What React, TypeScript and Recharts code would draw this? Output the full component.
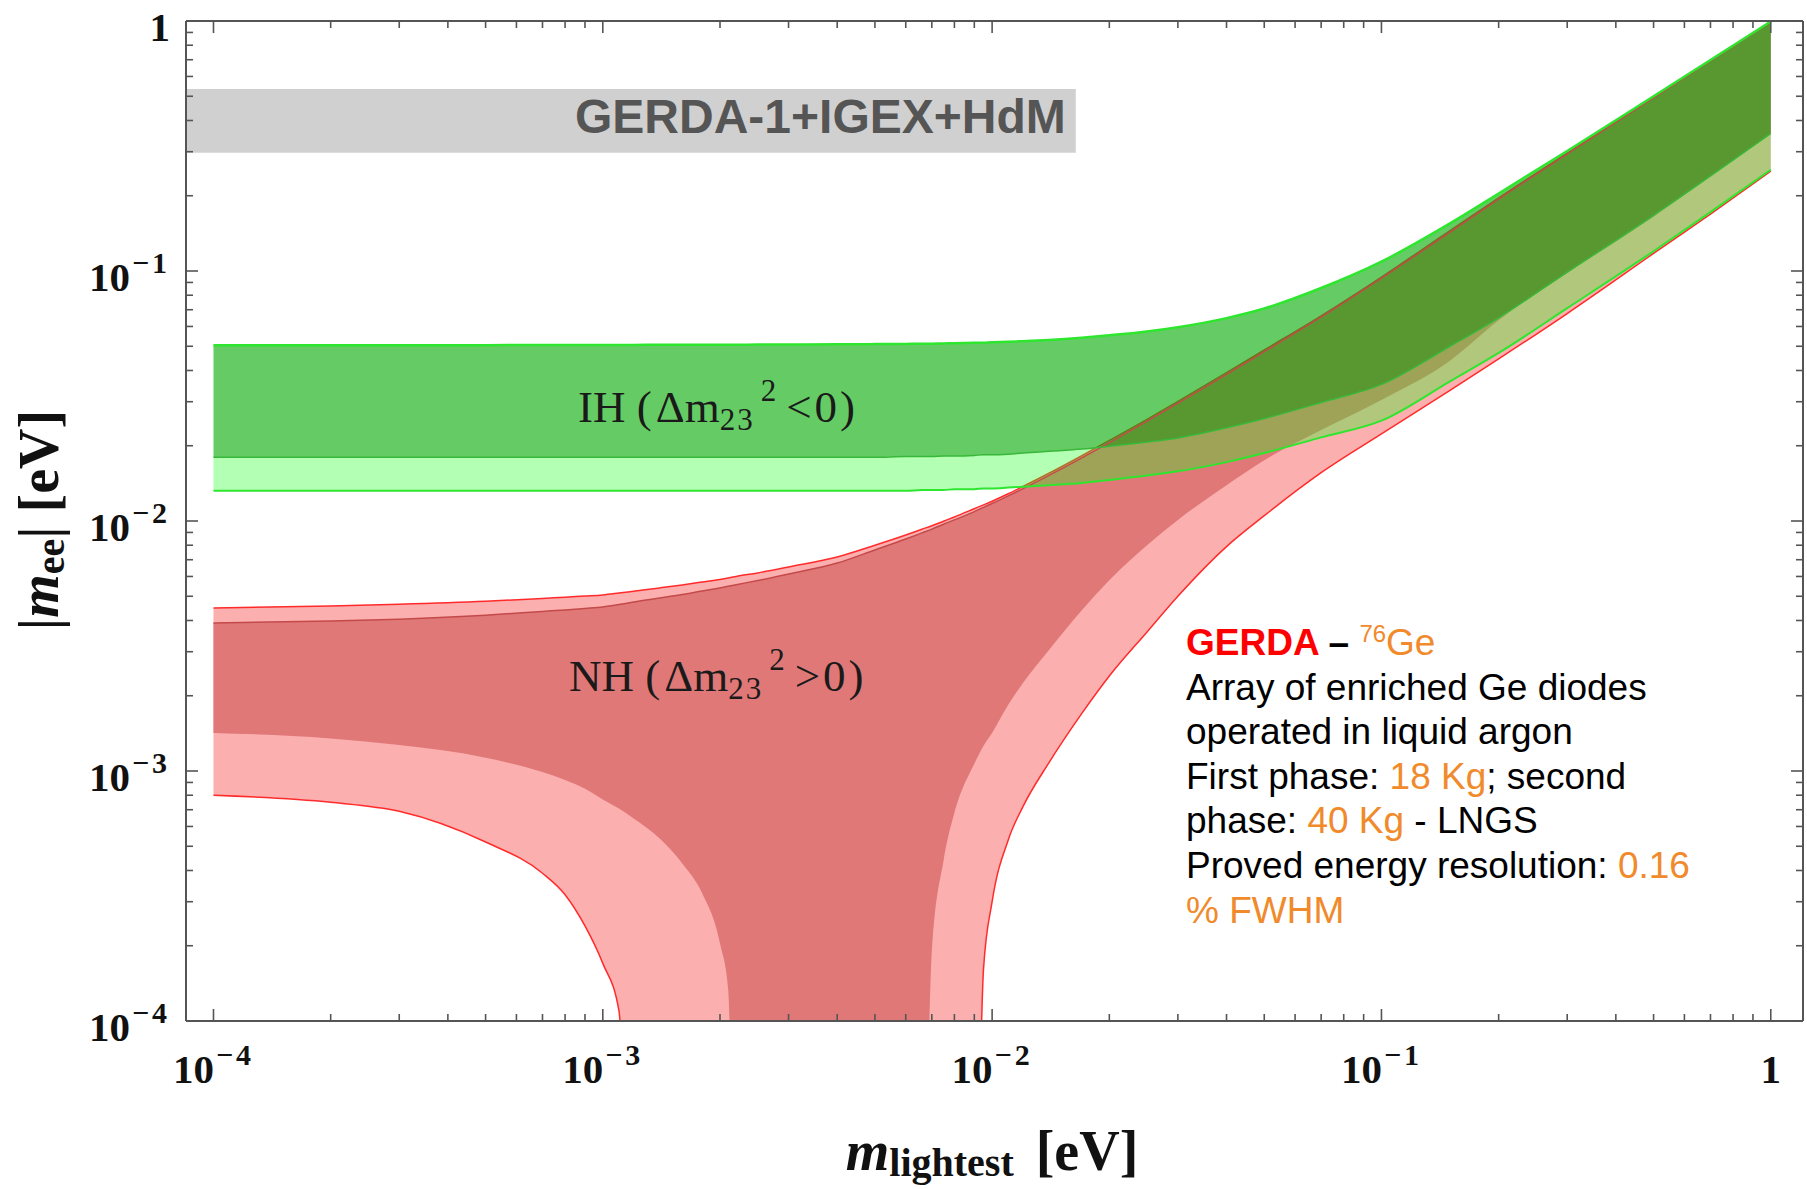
import { ComposedChart, Area, Line, XAxis, YAxis, ReferenceArea } from 'recharts'

// m_ee drops to zero here, below the plotted range
const Z = 1e-5

const mLightest = [
  1e-4, 2e-4, 3e-4, 5e-4, 7e-4, 8e-4, 9e-4, 1e-3, 1.1e-3, 1.2e-3,
  1.4e-3, 1.6e-3, 1.8e-3, 2e-3, 2.1e-3, 2.2e-3, 2.5e-3, 3e-3, 4e-3, 5e-3,
  6e-3, 6.6e-3, 7e-3, 7.5e-3, 8e-3, 9e-3, 9.5e-3, 0.01, 0.011, 0.012,
  0.014, 0.017, 0.02, 0.025, 0.03, 0.04, 0.05, 0.07, 0.1, 0.15,
  0.2, 0.3, 0.5, 0.7, 1,
]

// inverted hierarchy
const ihUpper = [
  0.0505, 0.0505, 0.0505, 0.0505, 0.0506, 0.0506, 0.0506, 0.0506, 0.0506, 0.0506,
  0.0507, 0.0507, 0.0507, 0.0507, 0.0507, 0.0507, 0.0508, 0.0508, 0.0509, 0.051,
  0.0511, 0.0512, 0.0512, 0.0513, 0.0514, 0.0516, 0.0517, 0.0519, 0.0521, 0.0524,
  0.053, 0.0541, 0.0553, 0.0573, 0.0596, 0.0648, 0.0708, 0.0855, 0.109, 0.155,
  0.204, 0.302, 0.5, 0.698, 0.995,
]
const ihBestLower = [
  0.018, 0.018, 0.018, 0.018, 0.018, 0.018, 0.018, 0.018, 0.018, 0.018,
  0.018, 0.018, 0.018, 0.018, 0.018, 0.018, 0.018, 0.018, 0.018, 0.018,
  0.0181, 0.0181, 0.0181, 0.0182, 0.0182, 0.0183, 0.0184, 0.0184, 0.0185, 0.0187,
  0.019, 0.0194, 0.0199, 0.0207, 0.0215, 0.0236, 0.0257, 0.0298, 0.0352, 0.05,
  0.065, 0.099, 0.167, 0.24, 0.355,
]
const ih3sLower = [
  0.0132, 0.0132, 0.0132, 0.0132, 0.0132, 0.0132, 0.0132, 0.0132, 0.0132, 0.0132,
  0.0132, 0.0132, 0.0132, 0.0132, 0.0132, 0.0132, 0.0132, 0.0132, 0.0132, 0.0132,
  0.0132, 0.0133, 0.0133, 0.0133, 0.0134, 0.0134, 0.0135, 0.0135, 0.0136, 0.0137,
  0.0139, 0.0142, 0.0146, 0.0152, 0.0158, 0.0172, 0.0187, 0.0216, 0.0252, 0.0362,
  0.047, 0.071, 0.12, 0.172, 0.254,
]

// normal hierarchy
const nh3sUpper = [
  0.00449, 0.00457, 0.00464, 0.00477, 0.0049, 0.00496, 0.00501, 0.00506, 0.00515, 0.00524,
  0.0054, 0.00555, 0.0057, 0.00584, 0.00592, 0.006, 0.0062, 0.00655, 0.00718, 0.008,
  0.00879, 0.00927, 0.00957, 0.00998, 0.01038, 0.0112, 0.0116, 0.012, 0.01285, 0.01374,
  0.01552, 0.01824, 0.021, 0.0255, 0.0301, 0.0392, 0.0483, 0.0662, 0.0946, 0.145,
  0.196, 0.296, 0.496, 0.695, 0.993,
]
const nhBestUpper = [
  0.00391, 0.00398, 0.00405, 0.0042, 0.00435, 0.00441, 0.00447, 0.00453, 0.00463, 0.00474,
  0.00492, 0.00508, 0.00525, 0.0054, 0.00548, 0.00556, 0.00578, 0.00614, 0.00679, 0.00766,
  0.00847, 0.00896, 0.00928, 0.00971, 0.0101, 0.0109, 0.01134, 0.01175, 0.0126, 0.01347,
  0.01523, 0.0179, 0.0206, 0.0251, 0.0296, 0.0386, 0.0476, 0.0655, 0.0937, 0.143,
  0.194, 0.294, 0.493, 0.692, 0.99,
]
const nhBestLower = [
  0.00142, 0.00135, 0.00127, 0.00113, 0.00099, 0.00092, 0.00085, 0.00077, 0.000708, 0.000646,
  0.000537, 0.000427, 0.000324, 0.000204, 0.000132, Z, Z, Z, Z, Z,
  Z, Z, 0.00019, 0.000437, 0.00068, 0.00107, 0.00126, 0.00142, 0.00184, 0.00225,
  0.00305, 0.0044, 0.0058, 0.008, 0.0101, 0.0139, 0.0175, 0.0231, 0.0305, 0.0438,
  0.0635, 0.098, 0.165, 0.238, 0.352,
]
const nh3sLower = [
  0.0008, 0.00075, 0.00069, 0.00052, 0.00039, 0.00032, 0.00024, 0.00017, 0.00011, Z,
  Z, Z, Z, Z, Z, Z, Z, Z, Z, Z,
  Z, Z, Z, Z, Z, Z, 0.00016, 0.0003, 0.00053, 0.00072,
  0.00108, 0.0017, 0.0024, 0.0036, 0.005, 0.0079, 0.0105, 0.0156, 0.0223, 0.0333,
  0.0445, 0.0676, 0.1175, 0.169, 0.251,
]

// GERDA-1+IGEX+HdM excluded band
const limitMee = [0.297, 0.535]
const limitMassMax = 0.0164

const decades = [1e-4, 1e-3, 1e-2, 1e-1, 1]
const minorSteps = [2, 3, 4, 5, 6, 7, 8, 9]
const xDomain = [8.5e-5, 1.21]
const yDomain = [1e-4, 1]

const logTicks = [
  ...decades,
  ...decades.slice(0, -1).flatMap((d) => minorSteps.map((k) => k * d)),
]

const rows = mLightest.map((m, i) => ({
  m,
  nh3s: [nh3sLower[i], nh3sUpper[i]],
  nhBest: [nhBestLower[i], nhBestUpper[i]],
  nhBestUp: nhBestUpper[i],
  ihLight: [ih3sLower[i], ihBestLower[i]],
  ihDark: [ihBestLower[i], ihUpper[i]],
  ihUp: ihUpper[i],
  ihBestLo: ihBestLower[i],
  ih3sLo: ih3sLower[i],
}))

const SERIF = '"Liberation Serif", "DejaVu Serif", serif'
const SANS = '"Liberation Sans", Arial, sans-serif'
const FRAME = '#555'
const ORANGE = '#f08a2b'
const CURVE = 'monotoneX'

const isDecade = (v: number) => decades.some((d) => Math.abs(v / d - 1) < 1e-9)

function PowerLabel({ x, y, v, anchor }: { x: number; y: number; v: number; anchor: string }) {
  const e = Math.round(Math.log10(v))
  return (
    <text x={x} y={y} textAnchor={anchor as any} fontFamily={SERIF} fontWeight="bold" fontSize={41} fill="#111">
      {e === 0 ? '1' : (
        <>
          10
          <tspan dy={-18} dx={2} fontSize={30} letterSpacing={3}>{'\u2212' + Math.abs(e)}</tspan>
        </>
      )}
    </text>
  )
}

function AxisTick(props: any) {
  const { x, y, payload, side } = props
  const v = payload.value
  const major = isDecade(v)
  const len = major ? 12 : 7
  let tickLine
  if (side === 'bottom') tickLine = <line x1={x} x2={x} y1={y} y2={y - len} />
  else if (side === 'top') tickLine = <line x1={x} x2={x} y1={y} y2={y + len} />
  else if (side === 'left') tickLine = <line x1={x} x2={x + len} y1={y} y2={y} />
  else tickLine = <line x1={x} x2={x - len} y1={y} y2={y} />
  return (
    <g>
      <g stroke={FRAME} strokeWidth={1.6}>{tickLine}</g>
      {major && side === 'bottom' && <PowerLabel x={x} y={y + 62} v={v} anchor="middle" />}
      {major && side === 'left' && <PowerLabel x={x - 16} y={y + 20} v={v} anchor="end" />}
    </g>
  )
}

function LimitLabel(props: any) {
  const vb = props.viewBox
  if (!vb) return null
  return (
    <text
      x={vb.x + vb.width - 10}
      y={vb.y + vb.height / 2 + 12}
      textAnchor="end"
      fontFamily={SANS}
      fontWeight="bold"
      fontSize={48}
      fill="#555"
    >
      GERDA-1+IGEX+HdM
    </text>
  )
}

function HierarchyLabel({ x, y, name, sign }: { x: number; y: number; name: string; sign: string }) {
  return (
    <text x={x} y={y} fontFamily={SERIF} fontSize={45} fill="#1a1a1a">
      {name} (
      <tspan dx={4}>Δm</tspan>
      <tspan fontSize={31} dy={8} letterSpacing={2}>23</tspan>
      <tspan fontSize={31} dy={-29} dx={6}>2</tspan>
      <tspan dy={21} dx={10} letterSpacing={3}>{sign}0)</tspan>
    </text>
  )
}

function Annotations() {
  return (
    <svg
      width={1807}
      height={1189}
      style={{ position: 'absolute', left: 0, top: 0, pointerEvents: 'none' }}
    >
      <HierarchyLabel x={578} y={422} name="IH" sign="<" />
      <HierarchyLabel x={569} y={691} name="NH" sign=">" />

      {/* experiment box */}
      <g fontFamily={SANS} fontSize={37} fill="#000">
        <text x={1186} y={655}>
          <tspan fill="#ff0000" fontWeight="bold">GERDA</tspan>
          <tspan fontWeight="bold"> – </tspan>
          <tspan fill={ORANGE} fontSize={24} dy={-13}>76</tspan>
          <tspan fill={ORANGE} dy={13}>Ge</tspan>
        </text>
        <text x={1186} y={700}>Array of enriched Ge diodes</text>
        <text x={1186} y={744}>operated in liquid argon</text>
        <text x={1186} y={789}>
          First phase: <tspan fill={ORANGE}>18 Kg</tspan>; second
        </text>
        <text x={1186} y={833}>
          phase: <tspan fill={ORANGE}>40 Kg</tspan> - LNGS
        </text>
        <text x={1186} y={878}>
          Proved energy resolution: <tspan fill={ORANGE}>0.16</tspan>
        </text>
        <text x={1186} y={923} fill={ORANGE}>% FWHM</text>
      </g>

      {/* axis titles */}
      <text x={992} y={1170} textAnchor="middle" fontFamily={SERIF} fontWeight="bold" fontSize={56} fill="#111">
        <tspan fontStyle="italic">m</tspan>
        <tspan fontSize={40} dy={6}>lightest</tspan>
        <tspan dy={-6} dx={22}>[eV]</tspan>
      </text>
      <text
        transform="translate(58,520) rotate(-90)"
        textAnchor="middle"
        fontFamily={SERIF}
        fontWeight="bold"
        fontSize={56}
        fill="#111"
      >
        |<tspan fontStyle="italic">m</tspan>
        <tspan fontSize={40} dy={6}>ee</tspan>
        <tspan dy={-6}>|</tspan>
        <tspan dx={14}>[eV]</tspan>
      </text>
    </svg>
  )
}

export default function App() {
  return (
    <div style={{ position: 'absolute', left: 0, top: 0, width: 1807, height: 1189, background: '#fff' }}>
      <ComposedChart
        width={1807}
        height={1189}
        data={rows}
        margin={{ top: 20, right: 3, bottom: 108, left: 86 }}
      >
        <XAxis
          dataKey="m"
          type="number"
          scale="log"
          domain={xDomain}
          allowDataOverflow
          ticks={logTicks}
          interval={0}
          height={60}
          tickSize={0}
          tickMargin={0}
          tickLine={false}
          axisLine={{ stroke: FRAME, strokeWidth: 2 }}
          tick={(p: any) => <AxisTick {...p} side="bottom" />}
        />
        <XAxis
          xAxisId="top"
          orientation="top"
          dataKey="m"
          type="number"
          scale="log"
          domain={xDomain}
          allowDataOverflow
          ticks={logTicks}
          interval={0}
          height={1}
          tickSize={0}
          tickMargin={0}
          tickLine={false}
          axisLine={{ stroke: FRAME, strokeWidth: 2 }}
          tick={(p: any) => <AxisTick {...p} side="top" />}
        />
        <YAxis
          type="number"
          scale="log"
          domain={yDomain}
          allowDataOverflow
          ticks={logTicks}
          interval={0}
          width={100}
          tickSize={0}
          tickMargin={0}
          tickLine={false}
          axisLine={{ stroke: FRAME, strokeWidth: 2 }}
          tick={(p: any) => <AxisTick {...p} side="left" />}
        />
        <YAxis
          yAxisId="right"
          orientation="right"
          type="number"
          scale="log"
          domain={yDomain}
          allowDataOverflow
          ticks={logTicks}
          interval={0}
          width={1}
          tickSize={0}
          tickMargin={0}
          tickLine={false}
          axisLine={{ stroke: FRAME, strokeWidth: 2 }}
          tick={(p: any) => <AxisTick {...p} side="right" />}
        />

        <ReferenceArea
          x1={xDomain[0]}
          x2={limitMassMax}
          y1={limitMee[0]}
          y2={limitMee[1]}
          fill="#d0d0d0"
          fillOpacity={1}
          stroke="none"
          label={(p: any) => <LimitLabel {...p} />}
        />

        <Area
          dataKey="nh3s"
          type={CURVE}
          fill="#fcafaf"
          fillOpacity={1}
          stroke="#ff2b2b"
          strokeWidth={1.5}
          isAnimationActive={false}
        />
        <Area
          dataKey="nhBest"
          type={CURVE}
          fill="#e07878"
          fillOpacity={1}
          stroke="none"
          isAnimationActive={false}
        />
        <Line dataKey="nhBestUp" type={CURVE} stroke="#c44a4a" strokeWidth={1.5} dot={false} isAnimationActive={false} />
        <Area
          dataKey="ihLight"
          type={CURVE}
          fill="#14ff14"
          fillOpacity={0.32}
          stroke="none"
          isAnimationActive={false}
        />
        <Area
          dataKey="ihDark"
          type={CURVE}
          fill="#04ab04"
          fillOpacity={0.61}
          stroke="none"
          isAnimationActive={false}
        />
        <Line dataKey="ihUp" type={CURVE} stroke="#2ee62e" strokeWidth={2.5} dot={false} isAnimationActive={false} />
        <Line dataKey="ihBestLo" type={CURVE} stroke="#38b838" strokeWidth={1.5} dot={false} isAnimationActive={false} />
        <Line dataKey="ih3sLo" type={CURVE} stroke="#2ee62e" strokeWidth={2} dot={false} isAnimationActive={false} />
        <Line
          xAxisId="top"
          yAxisId="right"
          dataKey="ihUp"
          stroke="none"
          dot={false}
          activeDot={false}
          isAnimationActive={false}
        />
      </ComposedChart>
      <Annotations />
    </div>
  )
}
